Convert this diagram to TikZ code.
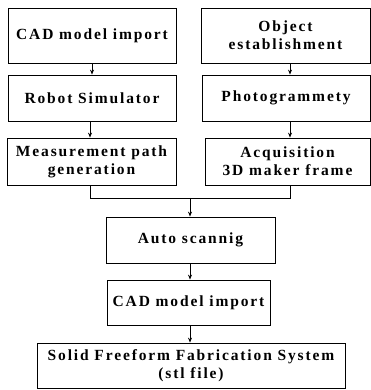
\documentclass[tikz,border=0pt]{standalone}
\usepackage{fontspec}
\setmainfont{Liberation Serif}[LetterSpace=12]
\usetikzlibrary{arrows.meta}
\begin{document}
\begin{tikzpicture}[x=1pt,y=1pt,
  box/.style={draw, line width=0.8pt, align=center, inner sep=0pt,
    font=\fontsize{15.5}{18}\selectfont\bfseries},
  arr/.style={line width=0.8pt, -{Stealth[length=5pt,width=4pt]}},
  ln/.style={line width=0.8pt}]
\useasboundingbox (0,0) rectangle (371,390);
\node[box, minimum width=168pt, minimum height=55pt] (A) at (92,354.5) {CAD model import};
\node[box, minimum width=169pt, minimum height=55pt] (B) at (285.5,354.5) {Object\\establishment};
\node[box, minimum width=168pt, minimum height=46pt] (C) at (92,292) {Robot Simulator};
\node[box, minimum width=168pt, minimum height=46pt] (D) at (286,292) {Photogrammety};
\node[box, minimum width=169pt, minimum height=47pt] (E) at (91.5,228.5) {Measurement path\\generation};
\node[box, minimum width=165pt, minimum height=47pt] (F) at (287.5,228.5) {Acquisition\\3D maker frame};
\node[box, minimum width=169pt, minimum height=46pt] (G) at (190.5,150) {Auto scannig};
\node[box, minimum width=163pt, minimum height=45pt] (H) at (188.5,87.5) {CAD model import};
\node[box, minimum width=308pt, minimum height=45pt] (I) at (191,24.5) {Solid Freeform Fabrication System\\(stl file)};
\coordinate (jl) at (90,192);
\coordinate (jr) at (290,192);
\coordinate (jm) at (190,192);
\draw[arr] (A.south) -- (C.north);
\draw[arr] (B.south -| jr) -- (D.north -| jr);
\draw[arr] (C.south -| jl) -- (E.north -| jl);
\draw[arr] (D.south -| jr) -- (F.north -| jr);
\draw[ln] (E.south -| jl) -- (jl) -- (jr) -- (F.south -| jr);
\draw[arr] (jm) -- (G.north -| jm);
\draw[arr] (G.south -| jm) -- (H.north -| jm);
\draw[arr] (H.south -| jm) -- (I.north -| jm);
\end{tikzpicture}
\end{document}
